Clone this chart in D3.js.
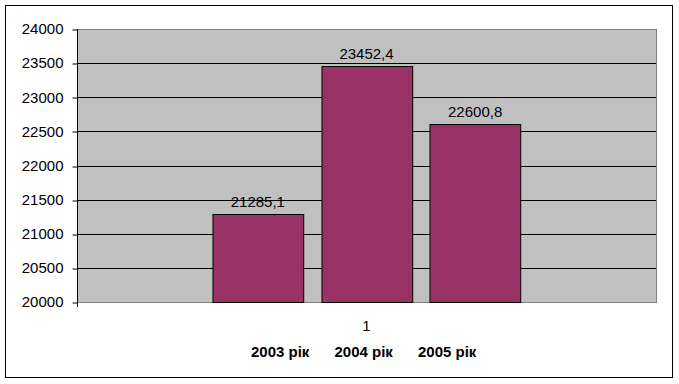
<!DOCTYPE html>
<html lang="uk">
<head>
<meta charset="UTF-8">
<script src="https://d3js.org/d3.v7.min.js"></script>
<style>
  body { margin: 0; background: #fff; font-family: 'Liberation Sans', Arial, sans-serif; }
  svg { display: block; }
</style>
</head>
<body>
<div id="chart"></div>
<script>
// data
const categories = ["1"];
const series = ["2003 рік", "2004 рік", "2005 рік"];
const values = [21285.1, 23452.4, 22600.8];
const yTicks = [20000, 20500, 21000, 21500, 22000, 22500, 23000, 23500, 24000];

const W = 679, H = 384;
const margin = { top: 29, right: 23, bottom: 82, left: 77 };
const plotW = W - margin.left - margin.right;
const plotH = H - margin.top - margin.bottom;

const svg = d3.select("#chart").append("svg")
  .attr("width", W).attr("height", H);

// outer frame
svg.append("rect")
  .attr("x", 5.5).attr("y", 5.5)
  .attr("width", 667).attr("height", 372)
  .attr("fill", "#fff").attr("stroke", "#000").attr("stroke-width", 1);

const g = svg.append("g").attr("transform", `translate(${margin.left},${margin.top})`);

const y = d3.scaleLinear().domain([20000, 24000]).range([plotH, 0]);
const x0 = d3.scaleBand().domain(categories).range([0, plotW]).padding(0.3055);
const x1 = d3.scaleBand().domain(series).range([0, x0.bandwidth()]).paddingInner(0.165).paddingOuter(0);

// plot area
g.append("rect")
  .attr("x", 0.5).attr("y", 0.5)
  .attr("width", plotW).attr("height", plotH)
  .attr("fill", "#c0c0c0").attr("stroke", "#808080");

// gridlines
g.selectAll(".grid").data(yTicks.filter(t => t > 20000 && t < 24000)).enter()
  .append("line")
  .attr("x1", 0).attr("x2", plotW)
  .attr("y1", d => Math.round(y(d)) + 0.5).attr("y2", d => Math.round(y(d)) + 0.5)
  .attr("stroke", "#000");

// y axis
const yAxis = g.append("g")
  .attr("transform", "translate(0.5,0)")
  .call(d3.axisLeft(y).tickValues(yTicks).tickSize(5).tickPadding(9).tickFormat(d3.format("d")));
yAxis.select(".domain").attr("stroke", "#000").attr("d", `M0,0V${plotH + 5}`);
yAxis.selectAll(".tick line").attr("stroke", "#000")
  .attr("transform", function(d) { return `translate(0,${Math.round(y(d)) + 0.5 - y(d)})`; });
yAxis.selectAll("text")
  .attr("font-family", "'Liberation Sans', Arial, sans-serif")
  .attr("font-size", 15).attr("fill", "#000");

// bars
const grp = g.selectAll(".cat").data(categories).enter().append("g")
  .attr("transform", d => `translate(${x0(d)},0)`);

grp.selectAll("rect").data(series.map((s, i) => ({ s, v: values[i] }))).enter()
  .append("rect")
  .attr("x", d => Math.round(x1(d.s)) + 0.5)
  .attr("y", d => Math.round(y(d.v)) + 0.5)
  .attr("width", x1.bandwidth())
  .attr("height", d => plotH - Math.round(y(d.v)))
  .attr("fill", "#993366").attr("stroke", "#000");

grp.selectAll(".lbl").data(series.map((s, i) => ({ s, v: values[i] }))).enter()
  .append("text")
  .attr("x", d => x1(d.s) + x1.bandwidth() / 2)
  .attr("y", d => y(d.v) - 7)
  .attr("text-anchor", "middle")
  .attr("font-size", 15).attr("fill", "#000")
  .text(d => d3.format(".1f")(d.v).replace(".", ","));

// x category label
g.selectAll(".xl").data(categories).enter().append("text")
  .attr("x", d => x0(d) + x0.bandwidth() / 2)
  .attr("y", plotH + 29)
  .attr("text-anchor", "middle")
  .attr("font-size", 15).attr("fill", "#000")
  .text(d => d);

// legend (text only)
const legend = svg.append("g").attr("transform", "translate(251,357)");
legend.selectAll("text").data(series).enter().append("text")
  .attr("x", (d, i) => i * 83.5)
  .attr("y", 0)
  .attr("font-size", 15).attr("font-weight", "bold").attr("fill", "#000")
  .text(d => d);
</script>
</body>
</html>
